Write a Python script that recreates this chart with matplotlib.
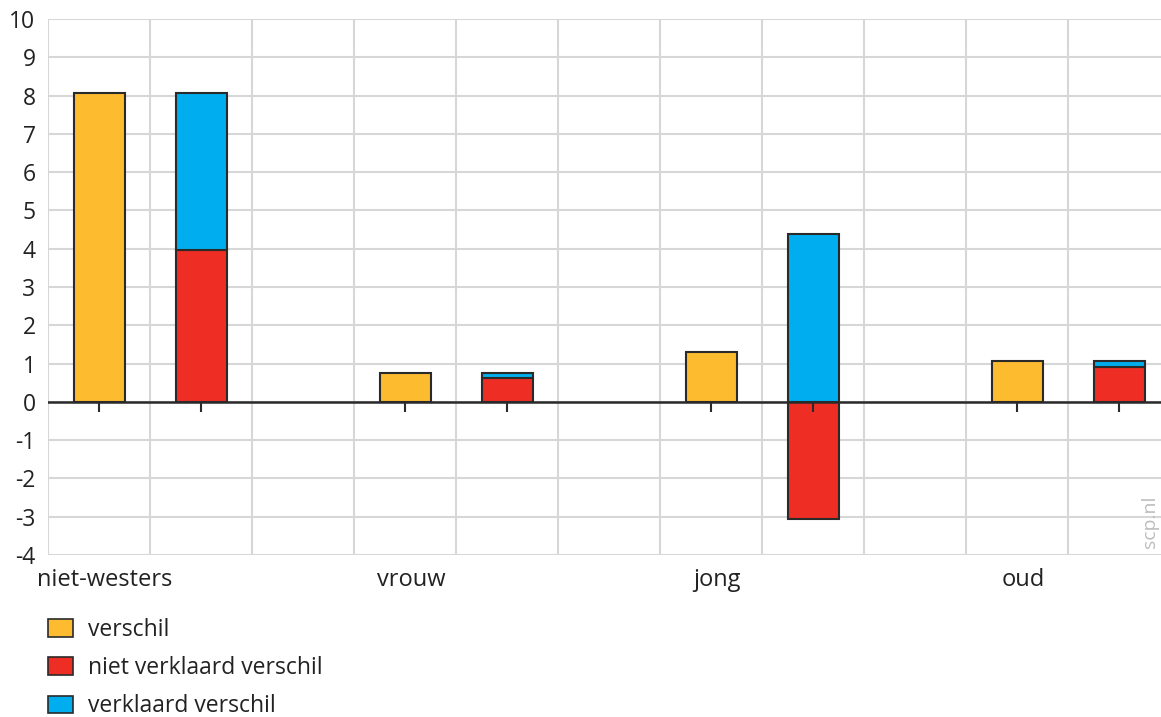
import matplotlib.pyplot as plt
import matplotlib.patches as mpatches
import numpy as np

plt.rcParams['font.family'] = ['Open Sans', 'DejaVu Sans']
plt.rcParams['axes.unicode_minus'] = False

groepen = ['niet-westers', 'vrouw', 'jong', 'oud']
verschil = [8.07, 0.76, 1.29, 1.07]
niet_verklaard = [3.97, 0.63, -3.05, 0.91]
verklaard = [4.10, 0.13, 4.39, 0.16]

geel = '#FDBB30'
rood = '#EE2E24'
blauw = '#00AEEF'
rand = '#2a2a2a'

fig = plt.figure(figsize=(11.61, 7.17), dpi=100)
ax = fig.add_axes([48/1161, 1-555/717, 1122/1161, 536/717])

n = len(groepen)
pos_v = np.arange(n) * 3
pos_s = pos_v + 1
w = 0.5

ax.bar(pos_v, verschil, w, color=geel, edgecolor=rand, lw=1.5, zorder=3)
# gestapeld: negatieve waarden apart van positieve
nv = np.array(niet_verklaard)
vk = np.array(verklaard)
ax.bar(pos_s, nv, w, color=rood, edgecolor=rand, lw=1.5, zorder=3)
bodem = np.where(nv > 0, nv, 0)
ax.bar(pos_s, vk, w, bottom=bodem, color=blauw, edgecolor=rand, lw=1.5, zorder=3)

ax.axhline(0, color=rand, lw=1.8, zorder=4)
alle = np.sort(np.concatenate([pos_v, pos_s]))
ax.vlines(alle, 0, -0.27, color=rand, lw=1.5, zorder=4)

ax.set_xlim(-0.5, 3*n - 1.5)
ax.set_ylim(-4, 10)
ax.set_yticks(range(-4, 11))
ax.set_xticks(np.arange(-0.5, 3*n - 1, 1), minor=False)
ax.set_xticklabels([])
ax.grid(True, color='#d7d7d7', lw=1.5, zorder=0)
ax.tick_params(axis='both', length=0)
ax.tick_params(axis='y', labelsize=16.5, pad=9, colors='#222222')
for s in ax.spines.values():
    s.set_visible(False)

for p, g in zip(pos_v, groepen):
    ax.text(p + 0.06, -4.35, g, ha='center', va='top', fontsize=17, color='#222222')

fig.text(1150/1161, 1-522/717, 'scp.nl', rotation=90, ha='center', va='center',
         fontsize=14, color='#bdbdbd')

handles = [mpatches.Patch(facecolor=c, edgecolor=rand, lw=1.2) for c in (geel, rood, blauw)]
fig.legend(handles, ['verschil', 'niet verklaard verschil', 'verklaard verschil'],
           loc='upper left', bbox_to_anchor=(48/1161, 1-618/717), frameon=False,
           borderaxespad=0, borderpad=0,
           fontsize=16.5, handlelength=1.1, handleheight=0.8, labelspacing=0.62,
           handletextpad=0.65, labelcolor='#222222')

fig.savefig('out.png', dpi=100)
